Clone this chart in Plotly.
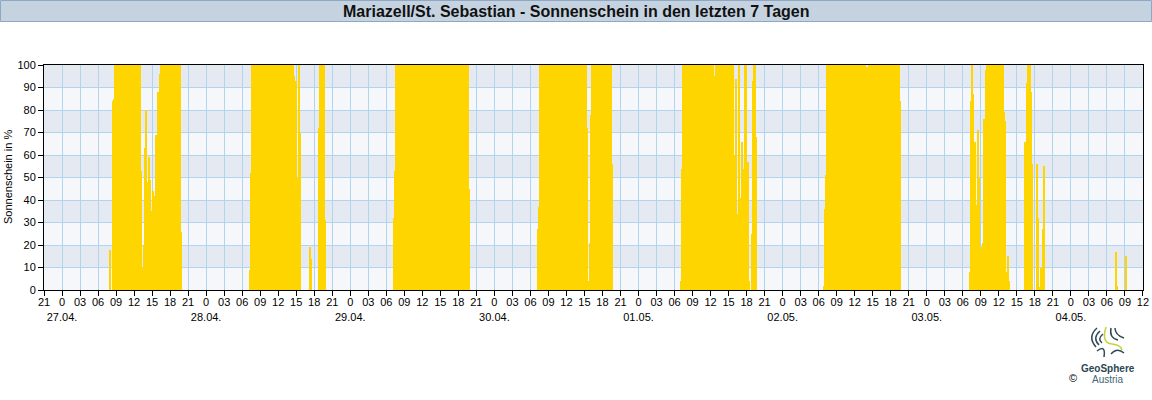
import plotly.graph_objects as go
import pandas as pd

YEAR = 2025
TITLE = "Mariazell/St. Sebastian - Sonnenschein in den letzten 7 Tagen"
Y_TITLE = "Sonnenschein in %"

# Sunshine (10-minute values, %) as runs: (start time, consecutive 10-min values)
sun_27_04 = [("07:50", [18]),
             ("08:20", [84, 85] + [100] * 26 +
              [53, 4, 10, 20, 63, 80, 12, 48, 59, 49, 35, 3, 44, 42, 38, 69, 0, 88, 85, 96] +
              [100] * 20 + [26])]
sun_28_04 = [("07:10", [9, 52] + [100] * 28 + [99] + [100] * 11 +
              [87, 100, 95, 64, 93, 50, 0, 100, 70]),
             ("17:10", [19, 14]),
             ("18:40", [72, 100, 100, 100, 100, 100, 31])]
sun_29_04 = [("07:10", [32, 53] + [100] * 73 + [45])]
sun_30_04 = [("07:10", [27, 37] + [100] * 20 + [96, 100, 100, 99] + [100] * 23 +
              [72, 4, 0, 21, 78] + [100] * 20 + [56])]
sun_01_05 = [("07:00", [4, 54] + [100] * 29 + [97, 100, 64, 95] + [100] * 18 +
              [60, 4, 94, 7, 34, 100, 13, 41, 66, 13, 54, 100, 100, 57, 57, 4, 0, 0,
               25, 93, 100, 100, 68])]
sun_02_05 = [("06:50", [2, 36, 51] + [100] * 39 + [89, 99, 99, 100, 100, 100, 76,
              100, 98, 100, 99, 100, 100, 100, 74] + [100] * 19 + [84])]
sun_03_05 = [("07:10", [8, 84, 100, 87, 48, 66, 38, 37, 71, 50, 15, 19, 4, 21, 76, 38, 98] +
              [100] * 17 + [79, 75, 8, 4, 15, 4]),
             ("16:20", [66, 47, 92, 100, 100, 100, 88, 56]),
             ("18:20", [56, 32, 0, 1.5, 10, 0, 27, 55])]
sun_04_05 = [("07:30", [17, 2]),
             ("09:10", [15])]

days = [("04-27", sun_27_04), ("04-28", sun_28_04), ("04-29", sun_29_04),
        ("04-30", sun_30_04), ("05-01", sun_01_05), ("05-02", sun_02_05),
        ("05-03", sun_03_05), ("05-04", sun_04_05)]

x_start = f"{YEAR}-04-26 21:00"
x_end = f"{YEAR}-05-04 12:00"

times, values = [], []
for day, runs in days:
    for start, vals in runs:
        t0 = pd.Timestamp(f"{YEAR}-{day} {start}")
        for i, v in enumerate(vals):
            times.append(t0 + pd.Timedelta(minutes=10 * i))
            values.append(v)

tick_times = pd.date_range(x_start, x_end, freq="3h")
tick_text = [(f"0<br>{t.day:02d}.{t.month:02d}." if t.hour == 0 else f"{t.hour:02d}")
             for t in tick_times]

W, H = 1152, 400
L, R, T, B = 44, 9, 65, 110
PW, PH = W - L - R, H - T - B


def px(x):
    return (x - L) / PW


def py(y):
    return (H - B - y) / PH


FONT = "Liberation Sans, Arial, sans-serif"

fig = go.Figure()
fig.add_trace(go.Bar(x=times, y=values, width=600000, offset=0,
                     marker=dict(color="#FFD500", line=dict(width=0)),
                     hoverinfo="x+y"))

shapes = []
# alternating horizontal bands
for k in range(10):
    if k % 2 == 1:
        shapes.append(dict(type="rect", xref="paper", yref="y", x0=0, x1=1,
                           y0=k * 10, y1=k * 10 + 10, fillcolor="#e5eaf2",
                           line=dict(width=0), layer="below"))
# title bar
shapes.append(dict(type="rect", xref="paper", yref="paper",
                   x0=px(0.5), x1=px(1151.5), y0=py(21.5), y1=py(0.5),
                   fillcolor="#c5d3e1", line=dict(color="#8ea8c3", width=1)))

dark = "#2f4a57"
lime = "#c5d13f"
logo_paths = [
    (f"M {px(1097)} {py(328)} Q {px(1087)} {py(337)} {px(1096)} {py(347)}", dark),
    (f"M {px(1100)} {py(331)} Q {px(1092)} {py(338)} {px(1099)} {py(345)}", dark),
    (f"M {px(1103)} {py(334)} Q {px(1097)} {py(339)} {px(1102)} {py(343)}", dark),
    (f"M {px(1097)} {py(351)} Q {px(1106)} {py(344)} {px(1104)} {py(357)}", dark),
    (f"M {px(1106)} {py(327)} Q {px(1101)} {py(343)} {px(1112)} {py(344)} Q {px(1121)} {py(345)} {px(1122)} {py(350)}", lime),
    (f"M {px(1111)} {py(328)} Q {px(1109)} {py(338)} {px(1118)} {py(340)}", dark),
    (f"M {px(1115)} {py(328)} Q {px(1115)} {py(335)} {px(1124)} {py(338)}", dark),
    (f"M {px(1111)} {py(354)} Q {px(1117)} {py(347)} {px(1124)} {py(353)}", dark),
]
for d, c in logo_paths:
    shapes.append(dict(type="path", xref="paper", yref="paper", path=d,
                       line=dict(color=c, width=1.5)))

annotations = [
    dict(text=f"<b>{TITLE}</b>", xref="paper", yref="paper", x=px(576), y=py(11),
         xanchor="center", yanchor="middle", showarrow=False,
         font=dict(family=FONT, size=16, color="#111111")),
    dict(text=Y_TITLE, xref="paper", yref="paper", x=px(8), y=py(177),
         xanchor="center", yanchor="middle", showarrow=False, textangle=-90,
         font=dict(family=FONT, size=11, color="#000000")),
    dict(text="<b>GeoSphere</b>", xref="paper", yref="paper", x=px(1108), y=py(368),
         xanchor="center", yanchor="middle", showarrow=False,
         font=dict(family=FONT, size=10, color="#2b4754")),
    dict(text="Austria", xref="paper", yref="paper", x=px(1108), y=py(379),
         xanchor="center", yanchor="middle", showarrow=False,
         font=dict(family=FONT, size=10, color="#446675")),
    dict(text="©", xref="paper", yref="paper", x=px(1073), y=py(378),
         xanchor="center", yanchor="middle", showarrow=False,
         font=dict(family=FONT, size=11, color="#000000")),
]

fig.update_layout(
    width=W, height=H,
    margin=dict(l=L, r=R, t=T, b=B, pad=0, autoexpand=False),
    paper_bgcolor="#ffffff", plot_bgcolor="#f5f7fa",
    bargap=0, showlegend=False,
    font=dict(family=FONT, size=11, color="#000000"),
    shapes=shapes, annotations=annotations,
    xaxis=dict(type="date", range=[x_start, f"{YEAR}-05-04 12:00:20"], tickmode="array",
               tickvals=tick_times, ticktext=tick_text, tickangle=0, automargin=False,
               ticklabelstandoff=-3,
               showgrid=True,
               gridcolor="#b1d5ef", gridwidth=1, showline=True, linecolor="#000000",
               linewidth=1, mirror=True, ticks="outside", ticklen=5,
               tickcolor="#000000", tickfont=dict(family=FONT, size=11, color="#000000"),
               zeroline=False),
    yaxis=dict(range=[0, 100], dtick=10, tick0=0, showgrid=True, automargin=False,
               gridcolor="#b1d5ef", gridwidth=1, showline=True, linecolor="#000000",
               linewidth=1, mirror=True, ticks="outside", ticklen=5,
               tickcolor="#000000", tickfont=dict(family=FONT, size=11, color="#000000"),
               zeroline=False, fixedrange=True),
)

fig.write_html("out.html", config={"displayModeBar": False},
               post_script="document.body.style.margin='0';document.body.style.overflow='hidden';")
